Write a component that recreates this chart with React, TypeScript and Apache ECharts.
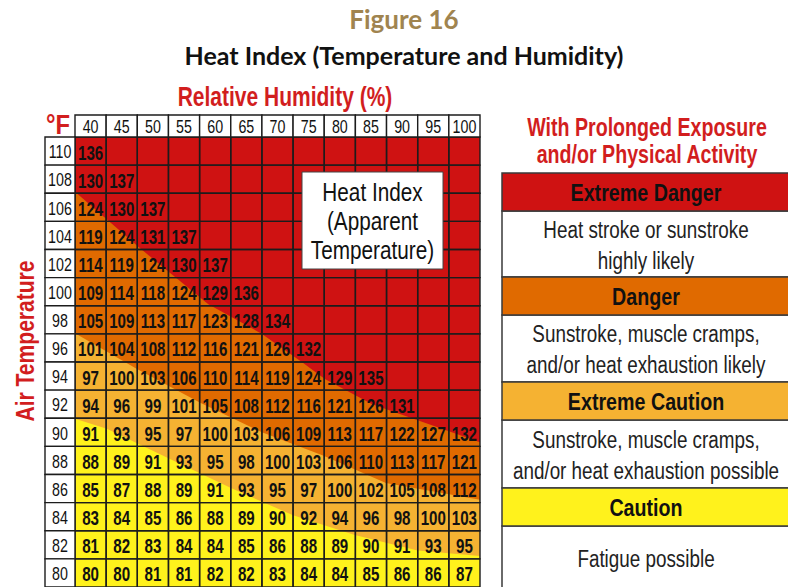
import React, { useEffect, useRef } from "react";
import * as echarts from "echarts";

// ---- Data ----
const humidity = [40, 45, 50, 55, 60, 65, 70, 75, 80, 85, 90, 95, 100];
const temperatures = [110, 108, 106, 104, 102, 100, 98, 96, 94, 92, 90, 88, 86, 84, 82, 80];
const heatIndex: (number | null)[][] = [
  [136, null, null, null, null, null, null, null, null, null, null, null, null],
  [130, 137, null, null, null, null, null, null, null, null, null, null, null],
  [124, 130, 137, null, null, null, null, null, null, null, null, null, null],
  [119, 124, 131, 137, null, null, null, null, null, null, null, null, null],
  [114, 119, 124, 130, 137, null, null, null, null, null, null, null, null],
  [109, 114, 118, 124, 129, 136, null, null, null, null, null, null, null],
  [105, 109, 113, 117, 123, 128, 134, null, null, null, null, null, null],
  [101, 104, 108, 112, 116, 121, 126, 132, null, null, null, null, null],
  [97, 100, 103, 106, 110, 114, 119, 124, 129, 135, null, null, null],
  [94, 96, 99, 101, 105, 108, 112, 116, 121, 126, 131, null, null],
  [91, 93, 95, 97, 100, 103, 106, 109, 113, 117, 122, 127, 132],
  [88, 89, 91, 93, 95, 98, 100, 103, 106, 110, 113, 117, 121],
  [85, 87, 88, 89, 91, 93, 95, 97, 100, 102, 105, 108, 112],
  [83, 84, 85, 86, 88, 89, 90, 92, 94, 96, 98, 100, 103],
  [81, 82, 83, 84, 84, 85, 86, 88, 89, 90, 91, 93, 95],
  [80, 80, 81, 81, 82, 82, 83, 84, 84, 85, 86, 86, 87],
];
// band edges: [humidity %, temperature °F]
const extremeCautionEdge = [
  [37.5, 90.96], [42.6, 90.26], [52.75, 88.1], [62.7, 86.0], [72.5, 84.1],
  [82.4, 82.7], [92.5, 81.6], [102.5, 81.2],
];
const dangerEdge = [
  [37.5, 97.05], [47.45, 94.5], [57.6, 92.1], [67.5, 90.0], [77.3, 88.35],
  [87.4, 86.4], [102.5, 85.2],
];
const extremeDangerEdge = [
  [37.5, 107.1], [47.9, 103.1], [58.9, 99.1], [67.5, 97.0], [73.9, 95.0],
  [77.6, 93.8], [85.2, 92.0], [97.4, 90.1], [102.5, 89.3],
];
const legendLevels = ["Extreme Danger", "Danger", "Extreme Caution", "Caution"];
const legendTexts = [
  "Heat stroke or sunstroke\nhighly likely",
  "Sunstroke, muscle cramps,\nand/or heat exhaustion likely",
  "Sunstroke, muscle cramps,\nand/or heat exhaustion possible",
  "Fatigue possible",
];

// ---- Styles ----
const RED = "#CF1212";
const DARK = "#E06A00";
const LIGHT = "#F5B232";
const YELLOW = "#FFF21C";
const LEVEL_COLORS = [RED, DARK, LIGHT, YELLOW];
const TITLE_RED = "#D21E1E";
const SANS = '"Liberation Sans", Arial, Helvetica, sans-serif';
const LINE = "#1c1c1c";

const X_MIN = 37.5;
const X_MAX = 102.5;
const Y_MIN = 79;
const Y_MAX = 111;
const HALF_W = 2.5;
const HALF_H = 1;

function txt(
  x: number,
  y: number,
  text: string,
  fontSize: number,
  opts: { bold?: boolean; fill?: string; scaleX?: number; lineHeight?: number; rotation?: number; z?: number; family?: string } = {}
) {
  return {
    type: "text",
    x,
    y,
    z: opts.z ?? 5,
    rotation: opts.rotation ?? 0,
    scaleX: opts.scaleX ?? 0.8,
    style: {
      text,
      align: "center",
      verticalAlign: "middle",
      fontFamily: opts.family ?? SANS,
      fontWeight: opts.bold ? "bold" : "normal",
      fontSize,
      lineHeight: opts.lineHeight,
      fill: opts.fill ?? "#111",
    },
  };
}

export default function App() {
  const ref = useRef<HTMLDivElement>(null);

  useEffect(() => {
    if (!ref.current) return;
    const chart = echarts.init(ref.current, null, { renderer: "svg" });

    const cellData: number[][] = [];
    const valueData: number[][] = [];
    temperatures.forEach((t, r) => {
      humidity.forEach((h, c) => {
        cellData.push([h, t]);
        const v = heatIndex[r][c];
        if (v !== null) valueData.push([h, t, v]);
      });
    });

    const bandEdges: (number[][] | null)[] = [null, extremeCautionEdge, dangerEdge, extremeDangerEdge];
    const bandColors = [YELLOW, LIGHT, DARK, RED];

    // legend panel layout (graphic)
    const panelX = 502;
    const headerTops = [173, 277, 382, 488];
    const headerH = 38;
    const textBottoms = [277, 382, 488, 600];
    const legendGraphics: any[] = [];
    legendLevels.forEach((lvl, i) => {
      const top = headerTops[i];
      legendGraphics.push({
        type: "rect",
        shape: { x: panelX, y: top + headerH, width: 300, height: textBottoms[i] - top - headerH },
        style: { fill: "#fff", stroke: "#3a3a3a", lineWidth: 1.5 },
      });
      legendGraphics.push({
        type: "rect",
        shape: { x: panelX, y: top, width: 300, height: headerH },
        style: { fill: LEVEL_COLORS[i], stroke: "#3a3a3a", lineWidth: 1.5 },
      });
      legendGraphics.push(txt(646, top + headerH / 2 + 1, lvl, 24, { bold: true, scaleX: 0.82 }));
      legendGraphics.push(
        txt(646, (top + headerH + Math.min(textBottoms[i], 590)) / 2 + 1, legendTexts[i], 23, {
          scaleX: 0.82,
          lineHeight: 31,
          fill: "#222",
        })
      );
    });

    chart.setOption({
      animation: false,
      backgroundColor: "#fff",
      grid: { left: 75, top: 137, width: 405, height: 452, containLabel: false },
      xAxis: { type: "value", min: X_MIN, max: X_MAX, show: false },
      yAxis: { type: "value", min: Y_MIN, max: Y_MAX, show: false },
      graphic: [
        txt(404, 19, "Figure 16", 26, { bold: true, fill: "#A0844F", scaleX: 1, family: "Lato, 'Open Sans', sans-serif" }),
        txt(404, 55, "Heat Index (Temperature and Humidity)", 25, {
          bold: true,
          fill: "#111",
          scaleX: 1,
          family: "Lato, 'Open Sans', sans-serif",
        }),
        txt(285, 96, "Relative Humidity (%)", 28, { bold: true, fill: TITLE_RED, scaleX: 0.75 }),
        txt(58, 124, "°F", 28, { bold: true, fill: TITLE_RED, scaleX: 0.85 }),
        txt(25, 341, "Air Temperature", 26, { bold: true, fill: TITLE_RED, scaleX: 0.81, rotation: Math.PI / 2 }),
        txt(647, 141, "With Prolonged Exposure\nand/or Physical Activity", 25, {
          bold: true,
          fill: TITLE_RED,
          scaleX: 0.785,
          lineHeight: 27,
        }),
        {
          type: "rect",
          z: 10,
          shape: { x: 302, y: 172, width: 141, height: 97 },
          style: { fill: "#fff", stroke: "#444", lineWidth: 1 },
        },
        txt(372.5, 221, "Heat Index\n(Apparent\nTemperature)", 25, { scaleX: 0.83, lineHeight: 29, z: 11 }),
        ...legendGraphics,
      ],
      series: [
        {
          type: "custom",
          name: "bands",
          z: 1,
          silent: true,
          data: bandColors.map((_, i) => [i, Y_MIN]),
          renderItem: (params: any, api: any) => {
            const i = params.dataIndex;
            const edge = bandEdges[i];
            let pts: number[][];
            if (!edge) {
              pts = [
                api.coord([X_MIN, Y_MIN]),
                api.coord([X_MAX, Y_MIN]),
                api.coord([X_MAX, Y_MAX]),
                api.coord([X_MIN, Y_MAX]),
              ];
            } else {
              pts = [...edge.map((p) => api.coord(p)), api.coord([X_MAX, Y_MAX]), api.coord([X_MIN, Y_MAX])];
            }
            return { type: "polygon", shape: { points: pts }, style: { fill: bandColors[i] } };
          },
        },
        {
          type: "custom",
          name: "cells",
          z: 2,
          silent: true,
          data: cellData,
          renderItem: (_: any, api: any) => {
            const h = api.value(0);
            const t = api.value(1);
            const a = api.coord([h - HALF_W, t + HALF_H]);
            const b = api.coord([h + HALF_W, t - HALF_H]);
            return {
              type: "rect",
              shape: { x: a[0], y: a[1], width: b[0] - a[0], height: b[1] - a[1] },
              style: { fill: "none", stroke: LINE, lineWidth: 1.4 },
            };
          },
        },
        {
          type: "custom",
          name: "values",
          z: 3,
          silent: true,
          data: valueData,
          renderItem: (_: any, api: any) => {
            const p = api.coord([api.value(0), api.value(1)]);
            return txt(p[0], p[1] + 1, String(api.value(2)), 21, { bold: true, scaleX: 0.72 });
          },
        },
        {
          type: "custom",
          name: "humidityHeader",
          z: 2,
          silent: true,
          data: humidity.map((h) => [h, Y_MAX]),
          renderItem: (_: any, api: any) => {
            const h = api.value(0);
            const a = api.coord([h - HALF_W, Y_MAX]);
            const b = api.coord([h + HALF_W, Y_MAX]);
            return {
              type: "group",
              children: [
                {
                  type: "rect",
                  shape: { x: a[0], y: a[1] - 22, width: b[0] - a[0], height: 22 },
                  style: { fill: "#fff", stroke: LINE, lineWidth: 1.4 },
                },
                txt((a[0] + b[0]) / 2, a[1] - 10, String(h), 19, { scaleX: 0.75 }),
              ],
            };
          },
        },
        {
          type: "custom",
          name: "temperatureLabels",
          z: 2,
          silent: true,
          data: temperatures.map((t) => [X_MIN, t]),
          renderItem: (_: any, api: any) => {
            const t = api.value(1);
            const a = api.coord([X_MIN, t + HALF_H]);
            const b = api.coord([X_MIN, t - HALF_H]);
            return {
              type: "group",
              children: [
                {
                  type: "rect",
                  shape: { x: a[0] - 30, y: a[1], width: 30, height: b[1] - a[1] },
                  style: { fill: "#fff", stroke: LINE, lineWidth: 1.4 },
                },
                txt(a[0] - 15, (a[1] + b[1]) / 2 + 1, String(t), 19, { scaleX: 0.75 }),
              ],
            };
          },
        },
      ],
    });

    return () => chart.dispose();
  }, []);

  return (
    <div
      ref={ref}
      style={{ position: "fixed", left: 0, top: 0, width: 788, height: 587, background: "#fff" }}
    />
  );
}
